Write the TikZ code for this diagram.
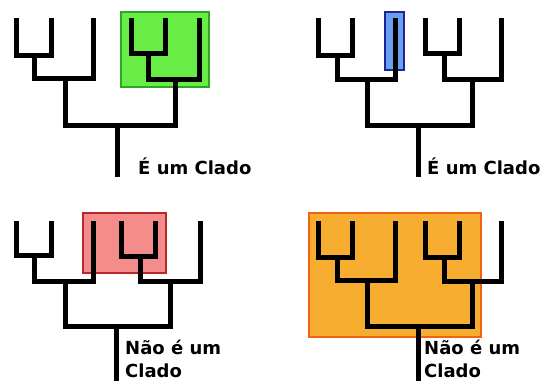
\documentclass[tikz,border=0pt]{standalone}
\usepackage{fontspec}
\setmainfont{DejaVu Sans}
\definecolor{CladeGreen}{RGB}{104,236,70}
\definecolor{CladeGreenEdge}{RGB}{48,165,36}
\definecolor{CladeBlue}{RGB}{104,160,240}
\definecolor{CladeBlueEdge}{RGB}{28,36,150}
\definecolor{CladeRed}{RGB}{245,140,140}
\definecolor{CladeRedEdge}{RGB}{185,40,40}
\definecolor{CladeOrange}{RGB}{247,174,48}
\definecolor{CladeOrangeEdge}{RGB}{240,98,20}

\tikzset{
  branch/.style={line width=5pt, line join=miter},
  hilite/.style={line width=1.8pt},
  lbl/.style={anchor=base west, inner sep=0pt, align=left, font=\bfseries\fontsize{18}{23}\selectfont},
}

\begin{document}
\begin{tikzpicture}[x=1pt,y=1pt,yscale=-1,xscale=1]
		\useasboundingbox (0,0) rectangle (544,381);

		% Highlight boxes (behind the trees)
		\draw[hilite, draw=CladeGreenEdge, fill=CladeGreen] (121,12) rectangle (209,87);
		\draw[hilite, draw=CladeBlueEdge, fill=CladeBlue] (385,12) rectangle (404,70);
		\draw[hilite, draw=CladeRedEdge, fill=CladeRed] (83,213) rectangle (166,273);
		\draw[hilite, draw=CladeOrangeEdge, fill=CladeOrange] (309,213) rectangle (481,337);

		% Top left tree
		\coordinate (a1) at (16,18);  \coordinate (a2) at (51,18);  \coordinate (a3) at (93,18);
		\coordinate (a4) at (131,18); \coordinate (a5) at (165,18); \coordinate (a6) at (199,18);
		\coordinate (ja1) at (34,55);  \coordinate (ja2) at (65,78);
		\coordinate (ja3) at (148,53); \coordinate (ja4) at (175,79);
		\coordinate (ra) at (117,125); \coordinate (ba) at (117,177);
		\draw[branch] (a1) |- (ja1) -| (a2);
		\draw[branch] (ja1) |- (ja2) -| (a3);
		\draw[branch] (a4) |- (ja3) -| (a5);
		\draw[branch] (ja3) |- (ja4) -| (a6);
		\draw[branch] (ja2) |- (ra) -| (ja4);
		\draw[branch] (ra) -- (ba);
		\node[lbl] (ta) at (138,174) {É um Clado};

		% Top right tree
		\coordinate (b1) at (318,18); \coordinate (b2) at (352,18); \coordinate (b3) at (395,18);
		\coordinate (b4) at (425,18); \coordinate (b5) at (459,18); \coordinate (b6) at (501,18);
		\coordinate (jb1) at (337,55); \coordinate (jb2) at (367,79);
		\coordinate (jb3) at (444,53); \coordinate (jb4) at (472,79);
		\coordinate (rb) at (418,125); \coordinate (bb) at (418,177);
		\draw[branch] (b1) |- (jb1) -| (b2);
		\draw[branch] (jb1) |- (jb2) -| (b3);
		\draw[branch] (b4) |- (jb3) -| (b5);
		\draw[branch] (jb3) |- (jb4) -| (b6);
		\draw[branch] (jb2) |- (rb) -| (jb4);
		\draw[branch] (rb) -- (bb);
		\node[lbl] (tb) at (427,174) {É um Clado};

		% Bottom left tree
		\coordinate (c1) at (16,221);  \coordinate (c2) at (51,221);  \coordinate (c3) at (93,221);
		\coordinate (c4) at (121,221); \coordinate (c5) at (155,221); \coordinate (c6) at (200,221);
		\coordinate (jc1) at (34,255);  \coordinate (jc2) at (65,281);
		\coordinate (jc3) at (140,256); \coordinate (jc4) at (170,281);
		\coordinate (rc) at (116,326); \coordinate (bc) at (116,381);
		\draw[branch] (c1) |- (jc1) -| (c2);
		\draw[branch] (jc1) |- (jc2) -| (c3);
		\draw[branch] (c4) |- (jc3) -| (c5);
		\draw[branch] (jc3) |- (jc4) -| (c6);
		\draw[branch] (jc2) |- (rc) -| (jc4);
		\draw[branch] (rc) -- (bc);
		\node[lbl] (tc) at (125,377) {Não é um\\Clado};

		% Bottom right tree
		\coordinate (d1) at (318,221); \coordinate (d2) at (352,221); \coordinate (d3) at (395,221);
		\coordinate (d4) at (425,221); \coordinate (d5) at (459,221); \coordinate (d6) at (501,221);
		\coordinate (jd1) at (337,257); \coordinate (jd2) at (367,280);
		\coordinate (jd3) at (444,257); \coordinate (jd4) at (472,281);
		\coordinate (rd) at (418,326); \coordinate (bd) at (418,381);
		\draw[branch] (d1) |- (jd1) -| (d2);
		\draw[branch] (jd1) |- (jd2) -| (d3);
		\draw[branch] (d4) |- (jd3) -| (d5);
		\draw[branch] (jd3) |- (jd4) -| (d6);
		\draw[branch] (jd2) |- (rd) -| (jd4);
		\draw[branch] (rd) -- (bd);
		\node[lbl] (td) at (424,377) {Não é um\\Clado};
	\end{tikzpicture}
\end{document}
